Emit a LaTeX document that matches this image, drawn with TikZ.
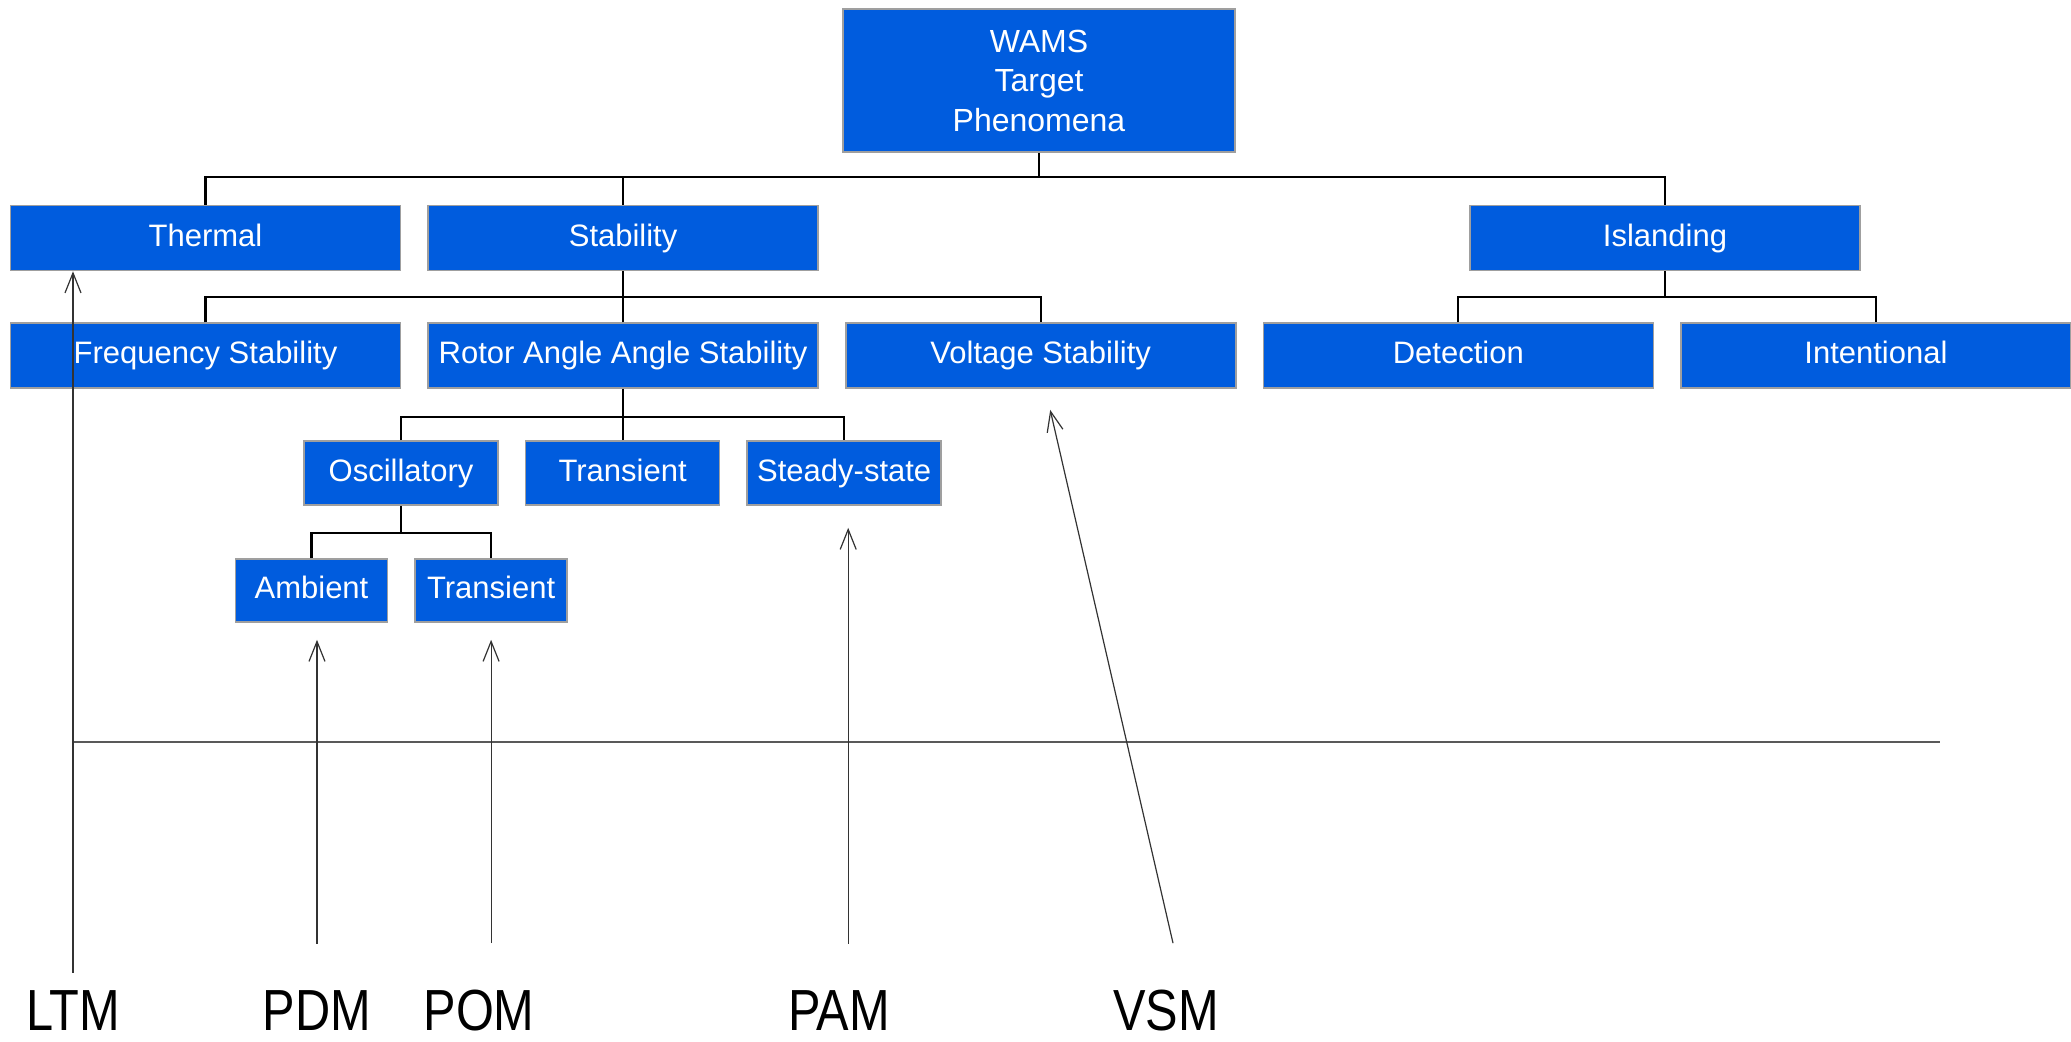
\documentclass[tikz,border=0pt]{standalone}
\usepackage{fontspec}
\setmainfont{Liberation Sans}
\newfontfamily\lblfont{Liberation Sans}[FakeStretch=0.84]
\usetikzlibrary{positioning,arrows.meta}
\definecolor{wamsblue}{RGB}{0,92,222}
\begin{document}
\begin{tikzpicture}[x=0.5pt, y=0.5pt, node distance={13pt},
        box/.style = {draw=gray!75, line width=0.8pt, fill=wamsblue, text=white, inner sep=0pt, align=center, font=\fontsize{15.5}{19.75}\selectfont},
        line/.style = {box, text height=11.5pt, text depth=3.5pt},
        wide/.style = {line, minimum width=195pt, minimum height=32.5pt},
        mid/.style = {line, minimum width=97pt, minimum height=32pt},
        small/.style = {line, minimum width=76pt, minimum height=31.5pt},
        lbl/.style = {anchor=base, inner sep=0pt, font=\lblfont\fontsize{29}{34}\selectfont},
        link/.style = {line width=1.1pt, black},
        arr/.style = {line width=0.6pt, black!80, -{Straight Barb[length=10pt,width=8pt]}}]
        \useasboundingbox (0,0) rectangle (2071,-1041);
        \node[box, minimum width=196pt, minimum height=71.5pt, font=\fontsize{16}{19.75}\selectfont] (wams) at (1039,-80.5) {WAMS\\Target\\Phenomena};
        \node[wide] (thermal) at (205.5,-238) {Thermal};
        \node[wide] (stab) [right=of thermal] {Stability};
        \node[wide] (island) at (1665,-238) {Islanding};
        \node[wide] (freq) [below=25.5pt of thermal] {Frequency Stability};
        \node[wide] (rotor) [right=of freq] {Rotor Angle Angle Stability};
        \node[wide] (volt) [right=of rotor] {Voltage Stability};
        \node[wide] (detect) [right=of volt] {Detection};
        \node[wide] (intent) [right=of detect] {Intentional};
        \node[mid] (osc) at (401,-473) {Oscillatory};
        \node[mid] (trans) [right=of osc] {Transient};
        \node[mid] (steady) [right=of trans] {Steady-state};
        \node[small] (amb) at (311.5,-590.5) {Ambient};
        \node[small] (trans2) [right=of amb] {Transient};
        \draw[link] (wams.south) -- ++(0,-24) coordinate (bus1);
        \draw[link] (thermal.north) |- (bus1) -| (island.north);
        \draw[link] (stab.north) -- (stab.north |- bus1);
        \draw[link] (stab.south) -- ++(0,-26) coordinate (bus2);
        \draw[link] (freq.north) |- (bus2) -| (volt.north);
        \draw[link] (rotor.north) -- (bus2);
        \draw[link] (island.south) -- ++(0,-26) coordinate (bus3);
        \draw[link] (detect.north) |- (bus3) -| (intent.north);
        \draw[link] (rotor.south) -- ++(0,-28) coordinate (bus4);
        \draw[link] (osc.north) |- (bus4) -| (steady.north);
        \draw[link] (trans.north) -- (trans.north |- bus4);
        \draw[link] (osc.south) -- ++(0,-27) coordinate (bus5);
        \draw[link] (amb.north) |- (bus5) -| (trans2.north);
        \coordinate (axisL) at (74,-742);
        \coordinate (axisR) at (1940,-742);
        \draw[line width=1pt, gray!70!black] (axisL) -- (axisR);
        \node[lbl] (ltm) at (73,-1030) {LTM};
        \node[lbl] (pdm) at (317,-1030) {PDM};
        \node[lbl] (pom) at (479,-1030) {POM};
        \node[lbl] (pam) at (839,-1030) {PAM};
        \node[lbl] (vsm) at (1166,-1030) {VSM};
        \draw[arr, shorten <=8.5pt] (ltm.north) -- (ltm.north |- thermal.south);
        \draw[arr, shorten <=23pt, shorten >=8.5pt] (pdm.north) -- (pdm.north |- amb.south);
        \draw[arr, shorten <=23pt, shorten >=8.5pt] (trans2.south |- pom.north) -- (trans2.south);
        \draw[arr, shorten <=23pt, shorten >=11pt] ([xshift=2pt]steady.south |- pam.north) -- ([xshift=2pt]steady.south);
        \draw[arr] ([xshift=3.5pt,yshift=23pt]vsm.north) -- ([xshift=4.75pt,yshift=-10.5pt]volt.south);
    \end{tikzpicture}
\end{document}
